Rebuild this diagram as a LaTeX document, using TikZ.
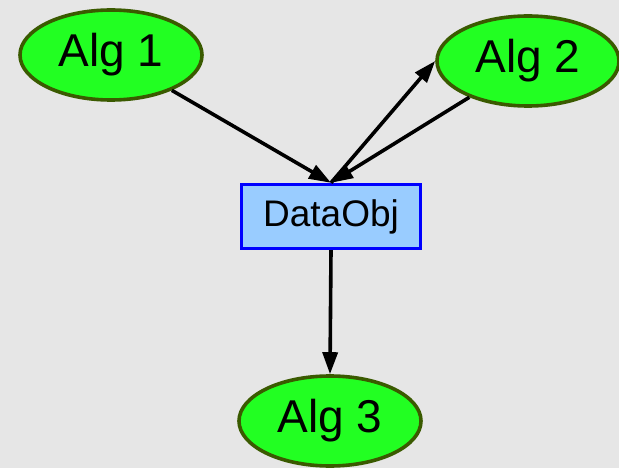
\documentclass[tikz,border=0pt]{standalone}
\usepackage{fontspec}
\setmainfont{Liberation Sans}
\usetikzlibrary{shapes.geometric,arrows.meta}
\definecolor{bgGrey}{HTML}{E6E6E6}
\definecolor{algFill}{HTML}{22FF22}
\definecolor{algEdge}{HTML}{3A5A00}
\definecolor{objFill}{HTML}{99CCFF}
\definecolor{objEdge}{HTML}{0000FF}
\tikzset{
  alg/.style={ellipse, draw=algEdge, fill=algFill, line width=3.6pt,
    minimum width=182pt, minimum height=90pt, inner sep=0pt,
    font=\fontsize{46}{46}\selectfont},
  dataobj/.style={rectangle, draw=objEdge, fill=objFill, line width=3.4pt,
    minimum width=179pt, minimum height=64pt, inner sep=0pt,
    font=\fontsize{37}{37}\selectfont},
  flow/.style={line width=3.6pt, -{Triangle[length=22pt,width=15pt]}}
}
\begin{document}
\begin{tikzpicture}[x=1pt,y=-1pt]
  % canvas
  \fill[bgGrey] (0,0) rectangle (619,468);
  \useasboundingbox (0,0) rectangle (619,468);

  % nodes
  \node[alg] (a1) at (111,55) {Alg 1};
  \node[alg] (a2) at (528,61) {Alg 2};
  \node[dataobj] (d) at (331,216.5) {DataObj};
  \node[alg] (a3) at (330,421) {Alg 3};

  % connectors
  \draw[flow] (a1) -- (d.north);
  \draw[flow] (a2) -- (d.north);
  \draw[flow] (d.north) -- (a2.west);
  \draw[flow] (d.south) -- (a3.north);
\end{tikzpicture}
\end{document}
